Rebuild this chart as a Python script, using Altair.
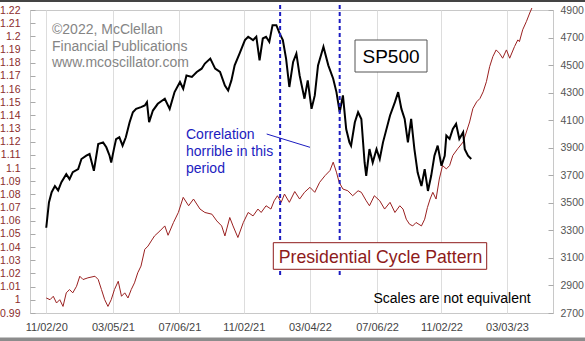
import altair as alt
import pandas as pd

# ---------------- data ----------------
sp_dates = [
    "2020-11-02", "2020-11-07", "2020-11-12", "2020-11-18", "2020-11-24", "2020-11-30",
    "2020-12-09", "2020-12-15", "2020-12-21", "2020-12-31", "2021-01-06", "2021-01-15",
    "2021-01-21", "2021-01-29", "2021-02-06", "2021-02-15", "2021-02-21", "2021-02-27",
    "2021-03-02", "2021-03-07", "2021-03-11", "2021-03-17", "2021-03-23", "2021-03-29",
    "2021-04-05", "2021-04-11", "2021-04-17", "2021-04-26", "2021-05-03", "2021-05-07",
    "2021-05-11", "2021-05-18", "2021-05-27", "2021-06-09", "2021-06-18", "2021-06-27",
    "2021-07-07", "2021-07-13", "2021-07-19", "2021-07-29", "2021-08-07", "2021-08-16",
    "2021-08-22", "2021-09-01", "2021-09-10", "2021-09-19", "2021-09-28", "2021-10-04",
    "2021-10-10", "2021-10-16", "2021-10-25", "2021-11-04", "2021-11-10", "2021-11-19",
    "2021-11-25", "2021-12-01", "2021-12-07", "2021-12-13", "2021-12-19", "2021-12-25",
    "2022-01-01", "2022-01-07", "2022-01-13", "2022-01-19", "2022-01-25", "2022-02-01",
    "2022-02-07", "2022-02-13", "2022-02-22", "2022-02-28", "2022-03-07", "2022-03-13",
    "2022-03-19", "2022-03-29", "2022-04-07", "2022-04-16", "2022-04-22", "2022-04-28",
    "2022-05-04", "2022-05-10", "2022-05-16", "2022-05-19", "2022-05-26", "2022-06-01",
    "2022-06-07", "2022-06-13", "2022-06-16", "2022-06-22", "2022-06-28", "2022-07-05",
    "2022-07-11", "2022-07-17", "2022-07-30", "2022-08-08", "2022-08-14", "2022-08-20",
    "2022-08-26", "2022-09-01", "2022-09-07", "2022-09-13", "2022-09-19", "2022-09-26",
    "2022-10-02", "2022-10-08", "2022-10-14", "2022-10-20", "2022-10-26", "2022-11-02",
    "2022-11-08", "2022-11-11", "2022-11-17", "2022-11-23", "2022-11-29", "2022-12-05",
    "2022-12-12", "2022-12-15", "2022-12-21", "2022-12-27",
]
sp_values = [
    3319, 3503, 3577, 3622, 3590, 3650,
    3708, 3672, 3723, 3745, 3818, 3842,
    3854, 3732, 3927, 3939, 3903, 3842,
    3793, 3890, 3963, 3976, 3915, 3976,
    4085, 4158, 4182, 4195, 4207, 4231,
    4085, 4170, 4219, 4256, 4182, 4304,
    4377, 4328, 4425, 4414, 4450, 4474,
    4511, 4547, 4474, 4450, 4352, 4316,
    4389, 4498, 4584, 4681, 4706, 4681,
    4706, 4535, 4693, 4706, 4669, 4790,
    4790, 4730, 4681, 4547, 4341, 4523,
    4584, 4425, 4256, 4389, 4182, 4280,
    4498, 4633, 4498, 4401, 4304, 4158,
    4280, 4036, 3939, 3915, 4085, 4158,
    4109, 3793, 3696, 3890, 3793, 3890,
    3818, 3939, 4134, 4231, 4304, 4182,
    4109, 3939, 4109, 3890, 3720, 3622,
    3745, 3586, 3696, 3842, 3915, 3769,
    3842, 3988, 3964, 4036, 4073, 3964,
    4012, 3890, 3842, 3818,
]

pc_dates = [
    "2020-11-02", "2020-11-09", "2020-11-15", "2020-11-21", "2020-11-27", "2020-12-03",
    "2020-12-09", "2020-12-15", "2020-12-21", "2020-12-28", "2021-01-03", "2021-01-09",
    "2021-01-18", "2021-01-31", "2021-02-06", "2021-02-12", "2021-02-18", "2021-02-24",
    "2021-03-02", "2021-03-08", "2021-03-15", "2021-03-21", "2021-03-27", "2021-04-02",
    "2021-04-08", "2021-04-14", "2021-04-20", "2021-04-26", "2021-05-03", "2021-05-09",
    "2021-05-15", "2021-05-21", "2021-05-31", "2021-06-09", "2021-06-15", "2021-06-25",
    "2021-07-04", "2021-07-13", "2021-07-23", "2021-08-01", "2021-08-13", "2021-08-22",
    "2021-09-04", "2021-09-13", "2021-09-22", "2021-09-28", "2021-10-07", "2021-10-13",
    "2021-10-22", "2021-11-01", "2021-11-10", "2021-11-19", "2021-11-28", "2021-12-04",
    "2021-12-13", "2021-12-22", "2021-12-28", "2022-01-03", "2022-01-10", "2022-01-16",
    "2022-01-25", "2022-02-04", "2022-02-13", "2022-02-22", "2022-03-04", "2022-03-13",
    "2022-03-22", "2022-04-01", "2022-04-10", "2022-04-16", "2022-04-22", "2022-04-27",
    "2022-05-04", "2022-05-13", "2022-05-22", "2022-06-01", "2022-06-07", "2022-06-16",
    "2022-06-22", "2022-07-01", "2022-07-11", "2022-07-20", "2022-07-30", "2022-08-08",
    "2022-08-17", "2022-08-23", "2022-08-29", "2022-09-04", "2022-09-10", "2022-09-16",
    "2022-09-26", "2022-10-02", "2022-10-07", "2022-10-12", "2022-10-17", "2022-10-23",
    "2022-10-29", "2022-11-04", "2022-11-11", "2022-11-17", "2022-11-23", "2022-12-02",
    "2022-12-12", "2022-12-18", "2022-12-24", "2022-12-30", "2023-01-06", "2023-01-12",
    "2023-01-18", "2023-01-24", "2023-01-30", "2023-02-05", "2023-02-11", "2023-02-17",
    "2023-02-23", "2023-03-02", "2023-03-08", "2023-03-17", "2023-03-23", "2023-03-26",
    "2023-04-01", "2023-04-08", "2023-04-14", "2023-04-18",
]
pc_values = [
    1.0014, 1.0001, 1.0027, 0.9976, 1.0001, 0.9950,
    1.0053, 1.0078, 1.0053, 1.0103, 1.0179, 1.0154,
    1.0167, 1.0179, 1.0154, 1.0078, 1.0001, 0.9950,
    1.0001, 1.0078, 1.0141, 1.0027, 1.0053, 1.0014,
    1.0078, 1.0129, 1.0205, 1.0256, 1.0383, 1.0408,
    1.0447, 1.0485, 1.0523, 1.0561, 1.0490, 1.0587,
    1.0663, 1.0778, 1.0714, 1.0765, 1.0689, 1.0663,
    1.0650, 1.0599, 1.0561, 1.0485, 1.0625, 1.0561,
    1.0473, 1.0587, 1.0663, 1.0637, 1.0689, 1.0663,
    1.0714, 1.0689, 1.0752, 1.0790, 1.0740, 1.0803,
    1.0740, 1.0822, 1.0765, 1.0816, 1.0854, 1.0816,
    1.0892, 1.0943, 1.0981, 1.1045, 1.0969, 1.0892,
    1.0841, 1.0828, 1.0790, 1.0828, 1.0816, 1.0752,
    1.0714, 1.0790, 1.0752, 1.0689, 1.0740, 1.0663,
    1.0714, 1.0689, 1.0612, 1.0574, 1.0561, 1.0587,
    1.0561, 1.0612, 1.0700, 1.0765, 1.0816, 1.0765,
    1.0917, 1.1019, 1.0994, 1.1019, 1.1096, 1.1147,
    1.1198, 1.1274, 1.1350, 1.1452, 1.1503, 1.1528,
    1.1579, 1.1656, 1.1770, 1.1847, 1.1897, 1.1872,
    1.1834, 1.1897, 1.1834, 1.1923, 1.1973, 1.1960,
    1.2050, 1.2114, 1.2177, 1.2215,
]

event_dates = ["2022-01-08", "2022-04-28"]

x_tick_dates = [(2020, 11, 2), (2021, 3, 5), (2021, 7, 6), (2021, 11, 2),
                (2022, 3, 4), (2022, 7, 6), (2022, 11, 2), (2023, 3, 3)]
left_ticks = [0.99, 1.00, 1.01, 1.02, 1.03, 1.04, 1.05, 1.06, 1.07, 1.08, 1.09, 1.10,
              1.11, 1.12, 1.13, 1.14, 1.15, 1.16, 1.17, 1.18, 1.19, 1.20, 1.21, 1.22]
right_ticks = [2700, 2900, 3100, 3300, 3500, 3700, 3900, 4100, 4300, 4500, 4700, 4900]

copyright_lines = ["\u00a92022, McClellan", "Financial Publications", "www.mcoscillator.com"]
corr_lines = ["Correlation", "horrible in this", "period"]
sp_label = "SP500"
pc_label = "Presidential Cycle Pattern"
note_label = "Scales are not equivalent"

# ---------------- frames ----------------
sp_df = pd.DataFrame({"date": [d + "T00:00:00" for d in sp_dates], "value": sp_values})
pc_df = pd.DataFrame({"date": [d + "T00:00:00" for d in pc_dates], "value": pc_values})
ev_df = pd.DataFrame({"date": [d + "T00:00:00" for d in event_dates]})
one = pd.DataFrame({"a": [0]})

FONT = "Liberation Sans"
BLUE = "#1c1cc0"
RED = "#8e1b1b"

x_scale = alt.Scale(domain=[alt.DateTime(year=2020, month=10, date=3),
                            alt.DateTime(year=2023, month=5, date=27)])
x_axis = alt.Axis(
    values=[alt.DateTime(year=y, month=m, date=d) for (y, m, d) in x_tick_dates],
    format="%m/%d/%y", title=None, grid=True, gridColor="#dddddd", ticks=False,
    domain=False, labelPadding=8, labelColor="#444444", labelFont=FONT,
    labelFontSize=11, labelFlush=False, labelOverlap=False,
)
X = alt.X("date:T", scale=x_scale, axis=x_axis)

pc_line = alt.Chart(pc_df).mark_line(color="#9a2020", strokeWidth=1).encode(
    x=X,
    y=alt.Y("value:Q",
            scale=alt.Scale(domain=[0.99, 1.22], nice=False, zero=False),
            axis=alt.Axis(orient="left", values=left_ticks, format="~g", title=None,
                          offset=-5, tickSize=5, tickColor="#aaaaaa", domain=False,
                          grid=False, labelColor="#8b2d2d", labelFont=FONT,
                          labelFontSize=10.5, labelPadding=10, labelOverlap=False,
                          labelFlush=False)),
)

sp_line = alt.Chart(sp_df).mark_line(color="black", strokeWidth=2).encode(
    x=X,
    y=alt.Y("value:Q",
            scale=alt.Scale(domain=[2700, 4900], nice=False, zero=False),
            axis=alt.Axis(orient="right", values=right_ticks, format="d", title=None,
                          offset=-5, tickSize=5, tickColor="#aaaaaa", domain=False,
                          grid=False, labelColor="#555555", labelFont=FONT,
                          labelFontSize=10.5, labelPadding=7, labelOverlap=False,
                          labelFlush=False)),
)

events = alt.Chart(ev_df).mark_rule(color=BLUE, strokeWidth=2, strokeDash=[4, 3]).encode(
    x=X, y=alt.value(-5), y2=alt.value(268)
)

base = alt.Chart(one)

copyright_text = base.mark_text(
    align="left", baseline="top", font=FONT, fontSize=14, color="#858585", lineHeight=16.5
).encode(x=alt.value(22), y=alt.value(13), text=alt.value(copyright_lines))

corr_text = base.mark_text(
    align="left", baseline="top", font=FONT, fontSize=14, color=BLUE, lineHeight=17
).encode(x=alt.value(156), y=alt.value(118), text=alt.value(corr_lines))

corr_pointer = base.mark_rule(color=BLUE, strokeWidth=1).encode(
    x=alt.value(236.7), y=alt.value(124), x2=alt.value(280), y2=alt.value(137.3)
)

sp_box = base.mark_rect(fill="white", stroke="#555555", strokeWidth=1).encode(
    x=alt.value(325), x2=alt.value(397), y=alt.value(30), y2=alt.value(62)
)
sp_text = base.mark_text(
    align="center", baseline="alphabetic", font=FONT, fontSize=19, color="black"
).encode(x=alt.value(361), y=alt.value(52.7), text=alt.value(sp_label))

pc_box = base.mark_rect(fill="white", stroke=RED, strokeWidth=1).encode(
    x=alt.value(243.3), x2=alt.value(456.7), y=alt.value(232.7), y2=alt.value(259.3)
)
pc_text = base.mark_text(
    align="center", baseline="alphabetic", font=FONT, fontSize=17.7, color=RED
).encode(x=alt.value(350.5), y=alt.value(252.5), text=alt.value(pc_label))

note_text = base.mark_text(
    align="center", baseline="alphabetic", font=FONT, fontSize=14, color="black"
).encode(x=alt.value(422), y=alt.value(293), text=alt.value(note_label))

top_frame = base.mark_rule(color="#444444", strokeWidth=2).encode(
    x=alt.value(-30), x2=alt.value(555), y=alt.value(-9)
)
bottom_frame = base.mark_rule(color="#8c8c8c", strokeWidth=4).encode(
    x=alt.value(-30), x2=alt.value(555), y=alt.value(329.5)
)

chart = alt.layer(
    pc_line, sp_line, events, copyright_text, corr_text, corr_pointer,
    sp_box, sp_text, pc_box, pc_text, note_text, top_frame, bottom_frame,
).resolve_scale(y="independent").properties(
    width=523, height=303,
    autosize=alt.AutoSizeParams(type="none"),
    padding={"left": 30, "top": 10, "right": 32, "bottom": 28},
    background="white",
).configure_view(stroke="#c8c8c8", strokeWidth=1)

chart.save("out.html", embed_options={"renderer": "svg", "actions": False})
